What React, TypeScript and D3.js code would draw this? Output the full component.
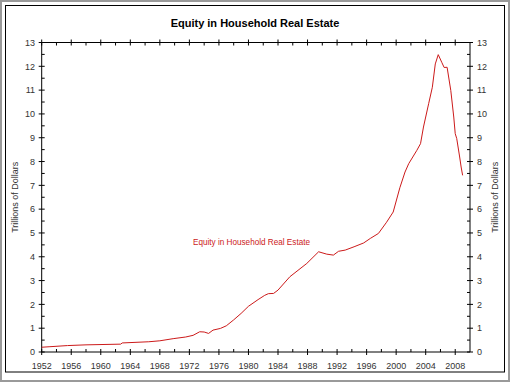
import React from "react";
import * as d3 from "d3";

const years = [1952.0,1953.0,1955.5,1958.0,1962.7,1962.9,1966.5,1968.0,1969.8,1971.5,1972.5,1973.4,1974.0,1974.6,1975.2,1976.2,1977.0,1978.0,1979.0,1980.0,1981.3,1982.2,1982.7,1983.4,1984.0,1985.6,1987.9,1989.5,1990.6,1991.5,1992.2,1993.1,1994.3,1995.6,1996.5,1997.6,1998.7,1999.6,2000.5,2001.2,2001.7,2002.8,2003.3,2003.7,2004.4,2004.9,2005.3,2005.7,2006.2,2006.5,2006.9,2007.4,2007.8,2008.0,2008.2,2008.6,2008.8,2009.0];
const equity = [0.20,0.22,0.27,0.30,0.33,0.38,0.43,0.47,0.56,0.63,0.70,0.85,0.84,0.78,0.92,0.99,1.10,1.35,1.62,1.92,2.20,2.38,2.45,2.46,2.60,3.16,3.72,4.21,4.11,4.07,4.23,4.28,4.42,4.58,4.77,4.98,5.45,5.88,6.90,7.56,7.91,8.47,8.75,9.45,10.43,11.12,12.10,12.49,12.15,11.95,11.96,10.98,9.87,9.17,8.97,8.19,7.77,7.42];
const xTickLabels = [1952,1956,1960,1964,1968,1972,1976,1980,1984,1988,1992,1996,2000,2004,2008];
const yTickLabels = [0,1,2,3,4,5,6,7,8,9,10,11,12,13];
const title = "Equity in Household Real Estate";
const seriesName = "Equity in Household Real Estate";
const yTitle = "Trillions of Dollars";

export default function App() {
  const W = 510, H = 382;
  const L = 41.7, R = 470, T = 42.5, B = 352;
  const x = d3.scaleLinear().domain([1952, 2010]).range([L, R]);
  const y = d3.scaleLinear().domain([0, 13]).range([B, T]);
  const pts: [number, number][] = years.map((yr, i) => [yr, equity[i]]);
  const line = d3.line<[number, number]>().x(d => x(d[0])).y(d => y(d[1]));
  const minorX = d3.range(1954, 2010, 4);
  const minorY = d3.range(0.5, 13, 1);
  const font = "Arial, 'Liberation Sans', sans-serif";
  const tickCol = "#333";
  return (
    <svg width={W} height={H} style={{ position: "absolute", left: 0, top: 0, background: "#fff" }} fontFamily={font}>
      <rect x={1} y={1} width={508} height={380} fill="#fff" stroke="#9a9a9a" strokeWidth={2} />
      <rect x={5.5} y={5.5} width={499} height={366.5} fill="none" stroke="#000" strokeWidth={1} />
      <text x={255} y={27} textAnchor="middle" fontSize={11} fontWeight="bold" fill="#000">{title}</text>
      {/* plot frame */}
      <line x1={L} x2={R} y1={B} y2={B} stroke="#000" />
      <line x1={L} x2={R} y1={T} y2={T} stroke="#000" />
      <line x1={L} x2={L} y1={T} y2={B} stroke="#000" />
      <line x1={R} x2={R} y1={T} y2={B} stroke="#000" />
      {/* x ticks */}
      {xTickLabels.map(v => (
        <g key={"x" + v}>
          <line x1={x(v)} x2={x(v)} y1={B - 3} y2={B + 3} stroke="#000" />
          <line x1={x(v)} x2={x(v)} y1={T - 3} y2={T + 3} stroke="#000" />
          <text x={x(v)} y={369} textAnchor="middle" fontSize={9} fill={tickCol}>{v}</text>
        </g>
      ))}
      {minorX.map(v => (
        <g key={"mx" + v}>
          <line x1={x(v)} x2={x(v)} y1={B - 3} y2={B} stroke="#000" />
          <line x1={x(v)} x2={x(v)} y1={T} y2={T + 3} stroke="#000" />
        </g>
      ))}
      {/* y ticks */}
      {yTickLabels.map(v => (
        <g key={"y" + v}>
          <line x1={L - 3} x2={L + 3} y1={y(v)} y2={y(v)} stroke="#000" />
          <line x1={R - 3} x2={R + 3} y1={y(v)} y2={y(v)} stroke="#000" />
          <text x={35} y={y(v) + 3.2} textAnchor="end" fontSize={9} fill={tickCol}>{v}</text>
          <text x={477} y={y(v) + 3.2} textAnchor="start" fontSize={9} fill={tickCol}>{v}</text>
        </g>
      ))}
      {minorY.map(v => (
        <g key={"my" + v}>
          <line x1={L} x2={L + 3} y1={y(v)} y2={y(v)} stroke="#000" />
          <line x1={R - 3} x2={R} y1={y(v)} y2={y(v)} stroke="#000" />
        </g>
      ))}
      <text transform={`translate(18,${(T + B) / 2}) rotate(-90)`} textAnchor="middle" fontSize={9} fill={tickCol}>{yTitle}</text>
      <text transform={`translate(498,${(T + B) / 2}) rotate(-90)`} textAnchor="middle" fontSize={9} fill={tickCol}>{yTitle}</text>
      <path d={line(pts) || ""} fill="none" stroke="#cc1a1a" strokeWidth={1} />
      <text x={193} y={245} fontSize={9} fill="#cc1a1a" textLength={117} lengthAdjust="spacingAndGlyphs">{seriesName}</text>
    </svg>
  );
}
